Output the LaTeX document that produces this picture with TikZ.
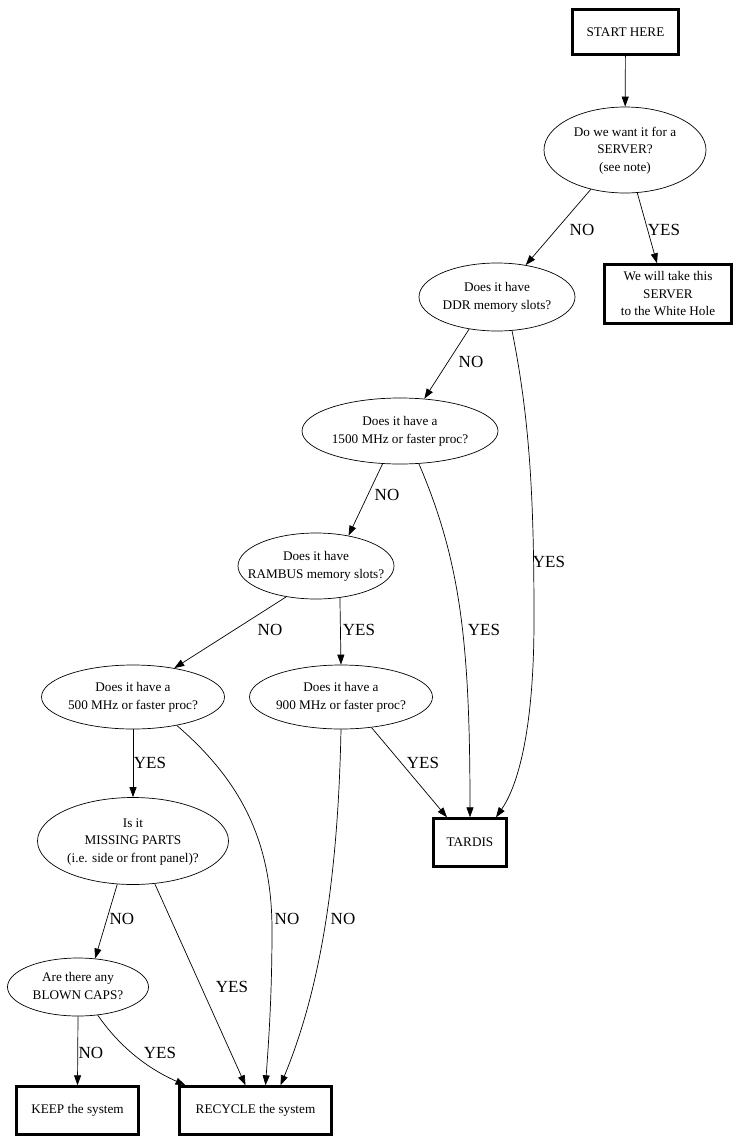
\documentclass[tikz,border=0pt]{standalone}
\usepackage{fontspec}
\setmainfont{Liberation Serif}
\usetikzlibrary{shapes.geometric,arrows.meta,positioning}
\newcommand\zwtext[1]{\makebox[0pt]{\begin{tabular}{@{}c@{}}#1\end{tabular}}}
\begin{document}
\begin{tikzpicture}[x=1pt,y=-1pt,
  txt/.style={font=\fontsize{13.2}{17.5}\selectfont, align=center},
  qbox/.style={ellipse, draw, line width=0.7pt, inner sep=0pt, txt},
  abox/.style={rectangle, draw, line width=2.4pt, inner sep=0pt, txt},
  lab/.style={font=\fontsize{17}{20}\selectfont, inner sep=0pt},
  edge/.style={draw, line width=0.7pt, -{Triangle[length=10pt,width=7pt]}}]
\useasboundingbox (0,0) rectangle (739,1143);
% nodes
\node[abox, minimum width=106pt, minimum height=45pt] (start) at (625.5,32) {START HERE};
\node[qbox, minimum width=162pt, minimum height=86pt] (server) at (625,150) {\zwtext{Do we want it for a\\SERVER?\\(see note)}};
\node[abox, minimum width=127pt, minimum height=59pt] (wh) at (668,294) {We will take this\\SERVER\\to the White Hole};
\node[qbox, minimum width=156pt, minimum height=68pt] (ddr) at (497,297) {\zwtext{Does it have\\DDR memory slots?}};
\node[qbox, minimum width=196pt, minimum height=66pt] (p1500) at (400,431) {\zwtext{Does it have a\\1500 MHz or faster proc?}};
\node[qbox, minimum width=156pt, minimum height=66pt] (rambus) at (316,566) {\zwtext{Does it have\\RAMBUS memory slots?}};
\node[qbox, minimum width=183pt, minimum height=64pt] (p500) at (133,697) {\zwtext{Does it have a\\500 MHz or faster proc?}};
\node[qbox, minimum width=183pt, minimum height=64pt] (p900) at (341,697) {\zwtext{Does it have a\\900 MHz or faster proc?}};
\node[qbox, minimum width=191pt, minimum height=87pt] (missing) at (133,841) {\zwtext{Is it\\MISSING PARTS\\(i.e. side or front panel)?}};
\node[qbox, minimum width=141pt, minimum height=58pt] (blown) at (78,987) {\zwtext{Are there any\\BLOWN CAPS?}};
\node[abox, minimum width=73pt, minimum height=48pt] (tardis) at (470,842.5) {TARDIS};
\node[abox, minimum width=122pt, minimum height=48pt] (keep) at (77.5,1110.5) {KEEP the system};
\node[abox, minimum width=152pt, minimum height=48pt] (recycle) at (255.5,1110.5) {RECYCLE the system};
% edges
\draw[edge] (start) -- (server);
\draw[edge] (server.-131) -- (ddr.48);
\draw[edge] (server.-74) -- ([xshift=-11pt]wh.north);
\draw[edge] (ddr.-131) -- (p1500.53);
\draw[edge] (ddr.-66) .. controls (530,420) and (534,500) .. (534,620) .. controls (534,740) and (515,790) .. ([xshift=26pt]tardis.north);
\draw[edge] (p1500.-118) -- (rambus.43);
\draw[edge] (p1500.-60) .. controls (460,560) and (470,640) .. (tardis.north);
\draw[edge] (rambus.-134) -- (p500.35);
\draw[edge] (rambus.-53) -- (p900.north);
\draw[edge] (p900.-45) -- ([xshift=-23pt]tardis.north);
\draw[edge] (p900.south) .. controls (338,880) and (320,990) .. ([xshift=25pt]recycle.north);
\draw[edge] (p500.south) -- (missing.north);
\draw[edge] (p500.-33) .. controls (240,780) and (272,840) .. (272,930) .. controls (272,1000) and (268,1050) .. ([xshift=10pt]recycle.north);
\draw[edge] (missing.-110) -- (blown.59);
\draw[edge] (missing.-63) -- ([xshift=-10pt]recycle.north);
\draw[edge] (blown.south) -- (keep.north);
\draw[edge] (blown.-55) .. controls (115,1040) and (140,1065) .. ([xshift=-70pt]recycle.north);
% labels
\node[lab] (l1) at (582,230) {NO};
\node[lab] (l2) at (664,230) {YES};
\node[lab] (l3) at (471,362) {NO};
\node[lab] (l4) at (549,562) {YES};
\node[lab] (l5) at (387,495) {NO};
\node[lab] (l6) at (484,630) {YES};
\node[lab] (l7) at (270,630) {NO};
\node[lab] (l8) at (359,630) {YES};
\node[lab] (l9) at (423,763) {YES};
\node[lab] (l10) at (150,763) {YES};
\node[lab] (l11) at (287,919) {NO};
\node[lab] (l12) at (343,919) {NO};
\node[lab] (l13) at (122,919) {NO};
\node[lab] (l14) at (232,987) {YES};
\node[lab] (l15) at (91,1053) {NO};
\node[lab] (l16) at (160,1053) {YES};
\end{tikzpicture}
\end{document}
